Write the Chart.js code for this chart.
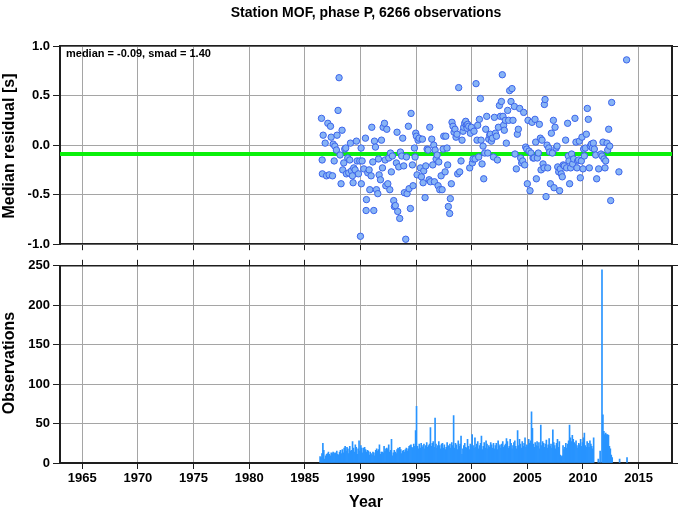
<!DOCTYPE html>
<html>

<head>
    <title>Station MOF</title>
    <script src="https://cdn.jsdelivr.net/npm/chart.js@4"></script>

    <style type="text/css">
        html,
        body {
            margin: 0;
            padding: 0;
            background-color: #ffffff;
        }

        canvas {
            position: absolute;
            left: 0;
        }
    </style>
</head>

<body>
    <canvas id="chartResidual" width="678" height="255" style="top: 0px;"></canvas>
    <canvas id="chartObs" width="678" height="256" style="top: 255px;"></canvas>

    <script>
        // median residual per month (year, seconds)
        const residYears = [
            1986.50, 1986.65, 1986.83, 1986.56, 1986.58, 1987.07, 1987.31, 1986.95, 1987.19, 1987.49,
            1987.37, 1987.64, 1987.55, 1987.70, 1987.84, 1987.99, 1988.08, 1987.90, 1988.17, 1988.26,
            1988.35, 1988.41, 1988.50, 1988.59, 1988.68, 1988.74, 1988.86, 1988.95, 1989.04, 1989.10,
            1989.19, 1989.34, 1989.28, 1989.40, 1989.52, 1989.64, 1989.70, 1989.82, 1989.94, 1990.06,
            1990.08, 1990.00, 1990.15, 1990.30, 1990.45, 1990.54, 1990.51, 1990.66, 1990.78, 1990.84,
            1990.96, 1991.02, 1991.11, 1991.20, 1991.26, 1991.35, 1991.44, 1991.56, 1991.62, 1991.68,
            1991.80, 1991.89, 1991.98, 1992.04, 1992.16, 1992.22, 1992.28, 1992.37, 1992.46, 1992.55,
            1992.64, 1992.70, 1992.78, 1992.87, 1992.99, 1993.05, 1993.14, 1993.23, 1993.29, 1993.35,
            1993.44, 1993.53, 1993.59, 1993.71, 1993.80, 1993.89, 1993.95, 1994.07, 1994.13, 1994.19,
            1994.31, 1994.37, 1994.49, 1994.55, 1994.67, 1994.73, 1994.85, 1994.91, 1994.97, 1995.03,
            1995.09, 1995.18, 1995.27, 1995.39, 1995.48, 1995.57, 1995.63, 1995.69, 1995.81, 1995.87,
            1995.99, 1996.08, 1996.17, 1996.23, 1996.29, 1996.41, 1996.50, 1996.59, 1996.65, 1996.71,
            1996.80, 1996.89, 1996.98, 1997.04, 1997.13, 1997.25, 1997.34, 1997.43, 1997.49, 1997.61,
            1997.67, 1997.78, 1997.84, 1997.90, 1998.02, 1998.08, 1998.17, 1998.23, 1998.32, 1998.41,
            1998.50, 1998.59, 1998.68, 1998.74, 1998.83, 1998.92, 1999.04, 1999.13, 1999.22, 1999.28,
            1999.37, 1999.46, 1999.52, 1999.58, 1999.64, 1999.73, 1999.82, 1999.88, 1999.97, 2000.06,
            2000.12, 2000.21, 2000.30, 2000.39, 2000.48, 2000.54, 2000.63, 2000.69, 2000.78, 2000.84,
            2000.93, 2001.02, 2001.08, 2001.17, 2001.26, 2001.35, 2001.44, 2001.53, 2001.62, 2001.68,
            2001.77, 2001.86, 2001.95, 2002.04, 2002.13, 2002.22, 2002.31, 2002.40, 2002.49, 2002.58,
            2002.67, 2002.75, 2002.81, 2002.87, 2002.93, 2003.02, 2003.11, 2003.23, 2003.32, 2003.41,
            2003.53, 2003.62, 2003.71, 2003.83, 2003.89, 2004.01, 2004.10, 2004.19, 2004.31, 2004.40,
            2004.49, 2004.58, 2004.67, 2004.76, 2004.85, 2004.94, 2005.00, 2005.06, 2005.15, 2005.24,
            2005.33, 2005.42, 2005.51, 2005.60, 2005.69, 2005.75, 2005.81, 2005.90, 2005.99, 2006.08,
            2006.17, 2006.23, 2006.32, 2006.41, 2006.50, 2006.53, 2006.59, 2006.68, 2006.77, 2006.83,
            2006.92, 2007.01, 2007.07, 2007.16, 2007.25, 2007.34, 2007.40, 2007.49, 2007.58, 2007.67,
            2007.73, 2007.82, 2007.90, 2007.96, 2008.05, 2008.14, 2008.23, 2008.32, 2008.44, 2008.53,
            2008.62, 2008.68, 2008.74, 2008.80, 2008.89, 2008.98, 2009.07, 2009.16, 2009.28, 2009.37,
            2009.46, 2009.52, 2009.61, 2009.67, 2009.76, 2009.85, 2009.91, 2010.00, 2010.06, 2010.12,
            2010.21, 2010.30, 2010.39, 2010.48, 2010.57, 2010.66, 2010.75, 2010.84, 2010.93, 2011.02,
            2011.14, 2011.23, 2011.41, 2011.62, 2011.71, 2011.80, 2011.89, 2011.98, 2012.04, 2012.16,
            2012.22, 2012.31, 2012.40, 2012.49, 2012.58, 2013.23, 2013.92
        ];
        const residValues = [
            0.27, 0.10, 0.02, -0.15, -0.29, 0.22, 0.19, -0.31, -0.30, -0.31,
            0.08, -0.16, 0.01, -0.01, -0.05, 0.35, 0.68, 0.10, -0.10, -0.39,
            0.15, -0.25, -0.18, -0.04, -0.03, -0.29, -0.13, -0.28, -0.15, 0.02,
            -0.26, -0.38, -0.31, -0.23, -0.25, 0.04, -0.16, -0.29, -0.16, -0.03,
            -0.39, -0.92, -0.16, -0.24, 0.07, -0.55, -0.66, -0.28, -0.25, -0.45,
            -0.31, 0.18, -0.17, -0.66, 0.04, -0.02, -0.45, -0.49, -0.14, -0.30,
            -0.35, 0.05, -0.23, 0.18, 0.22, -0.15, -0.41, 0.16, -0.39, -0.13,
            -0.45, -0.08, -0.27, -0.11, -0.56, -0.62, -0.61, -0.18, 0.13, -0.67,
            -0.22, -0.74, -0.07, -0.11, 0.07, -0.21, -0.48, -0.95, -0.12, -0.49,
            0.19, -0.44, -0.64, 0.32, -0.20, -0.41, -0.03, -0.12, 0.12, 0.09,
            -0.30, 0.05, 0.07, -0.23, -0.32, 0.06, -0.38, -0.26, -0.53, -0.21,
            -0.04, -0.05, -0.35, 0.18, -0.37, 0.06, -0.20, 0.00, -0.37, -0.05,
            -0.14, -0.10, -0.41, -0.17, -0.45, -0.31, -0.45, -0.04, 0.09, -0.27,
            0.09, -0.03, -0.20, -0.62, -0.69, -0.54, -0.39, 0.23, 0.19, 0.13,
            0.16, 0.08, 0.11, -0.29, 0.58, -0.27, -0.16, 0.05, 0.14, 0.18,
            0.22, 0.24, 0.20, 0.17, 0.21, 0.19, -0.23, 0.12, 0.18, -0.18,
            -0.14, 0.14, -0.14, 0.62, 0.05, 0.20, -0.12, 0.26, 0.47, 0.05,
            -0.19, -0.01, -0.34, -0.08, 0.16, 0.29, -0.08, 0.06, 0.10, 0.11,
            0.04, 0.07, -0.12, 0.28, 0.12, 0.09, -0.15, 0.18, 0.40, 0.29,
            0.44, 0.71, 0.29, 0.20, 0.15, 0.25, 0.02, 0.35, 0.25, 0.55,
            0.44, 0.57, 0.25, 0.39, -0.09, -0.24, 0.11, 0.16, 0.37, -0.13,
            -0.18, -0.16, 0.33, -0.20, -0.02, -0.04, -0.39, 0.25, -0.06, -0.46,
            -0.08, 0.23, -0.13, -0.13, 0.26, 0.03, -0.34, -0.13, -0.08, 0.21,
            0.07, -0.25, 0.05, -0.19, -0.23, 0.41, 0.46, -0.52, 0.00, -0.23,
            -0.03, -0.07, -0.39, 0.12, -0.08, 0.25, -0.43, 0.18, -0.03, -0.01,
            -0.22, -0.27, -0.46, -0.24, -0.29, -0.32, -0.20, -0.21, 0.05, -0.23,
            0.22, -0.11, -0.16, -0.39, -0.23, -0.09, -0.19, -0.14, 0.27, 0.03,
            -0.23, -0.16, -0.15, 0.04, -0.33, -0.16, 0.08, -0.24, -0.04, -0.11,
            -0.03, 0.11, 0.37, 0.26, -0.23, -0.01, 0.01, -0.03, 0.02, -0.04,
            -0.10, -0.34, -0.24, -0.09, -0.11, 0.03, -0.14, -0.23, -0.16, 0.02,
            -0.05, 0.16, -0.01, -0.56, 0.43, -0.27, 0.86
        ];
        const medianResidual = -0.09;
        const smadResidual = 1.40;

        // observations per month, Jan..Dec
        const obs1986 = [0, 0, 0, 0, 8, 7, 12, 25, 16, 5, 9, 11];
        const obs1987 = [12, 14, 11, 9, 13, 12, 14, 13, 12, 13, 15, 11];
        const obs1988 = [10, 14, 16, 12, 17, 13, 19, 21, 15, 20, 18, 12];
        const obs1989 = [21, 15, 16, 27, 19, 14, 23, 20, 11, 18, 28, 15];
        const obs1990 = [22, 19, 13, 19, 20, 17, 14, 16, 15, 10, 14, 12];
        const obs1991 = [10, 14, 13, 9, 16, 18, 15, 17, 23, 11, 14, 14];
        const obs1992 = [13, 21, 15, 18, 19, 17, 23, 14, 16, 30, 9, 13];
        const obs1993 = [16, 14, 12, 17, 19, 18, 20, 17, 12, 15, 16, 14];
        const obs1994 = [17, 19, 15, 18, 21, 22, 23, 20, 19, 24, 21, 41];
        const obs1995 = [72, 21, 18, 24, 19, 25, 20, 22, 24, 18, 22, 26];
        const obs1996 = [20, 22, 24, 45, 21, 25, 27, 20, 57, 24, 19, 22];
        const obs1997 = [27, 22, 18, 24, 25, 19, 23, 17, 20, 26, 22, 21];
        const obs1998 = [24, 19, 26, 22, 60, 19, 25, 23, 17, 28, 21, 24];
        const obs1999 = [34, 11, 18, 22, 25, 20, 19, 30, 21, 17, 24, 22];
        const obs2000 = [36, 22, 19, 32, 20, 24, 27, 18, 22, 25, 34, 17];
        const obs2001 = [21, 26, 19, 28, 24, 18, 22, 20, 26, 23, 19, 25];
        const obs2002 = [18, 22, 25, 17, 28, 21, 23, 19, 24, 27, 20, 22];
        const obs2003 = [24, 31, 27, 19, 21, 30, 25, 18, 22, 26, 28, 21];
        const obs2004 = [18, 41, 22, 30, 24, 19, 27, 21, 25, 32, 20, 23];
        const obs2005 = [22, 30, 25, 28, 65, 44, 24, 20, 26, 22, 27, 21];
        const obs2006 = [26, 18, 48, 22, 27, 25, 20, 24, 29, 19, 23, 31];
        const obs2007 = [21, 24, 19, 42, 26, 22, 18, 25, 30, 20, 27, 10];
        const obs2008 = [8, 9, 22, 17, 20, 25, 19, 24, 28, 48, 32, 27];
        const obs2009 = [35, 30, 26, 24, 28, 22, 19, 25, 23, 30, 21, 26];
        const obs2010 = [32, 38, 22, 20, 27, 25, 20, 28, 24, 21, 18, 32];
        const obs2011 = [0, 0, 0, 0, 5, 0, 15, 0, 245, 61, 40, 36];
        const obs2012 = [38, 36, 36, 35, 21, 18, 10, 7, 0, 0, 0, 0];
        const obs2013 = [0, 0, 0, 5, 0, 0, 0, 0, 0, 0, 0, 7];

        const obsByYear = [
            [1986, obs1986], [1987, obs1987], [1988, obs1988], [1989, obs1989], [1990, obs1990],
            [1991, obs1991], [1992, obs1992], [1993, obs1993], [1994, obs1994], [1995, obs1995],
            [1996, obs1996], [1997, obs1997], [1998, obs1998], [1999, obs1999], [2000, obs2000],
            [2001, obs2001], [2002, obs2002], [2003, obs2003], [2004, obs2004], [2005, obs2005],
            [2006, obs2006], [2007, obs2007], [2008, obs2008], [2009, obs2009], [2010, obs2010],
            [2011, obs2011], [2012, obs2012], [2013, obs2013]
        ];

        const yearTicks = [1965, 1970, 1975, 1980, 1985, 1990, 1995, 2000, 2005, 2010, 2015];
        const residTicks = [-1.0, -0.5, 0.0, 0.5, 1.0];
        const obsTicks = [0, 50, 100, 150, 200, 250];

        const fontFamily = '"Liberation Sans", Arial, Helvetica, sans-serif';
        const tickFont = { family: fontFamily, size: 13, weight: 'bold' };
        const gridColor = 'rgb(165, 165, 165)';
        const axisColor = 'rgb(30, 30, 30)';

        function FixTicks(values) {
            return function(scale) {
                scale.ticks = values.map(v => ({ value: v }));
            };
        }

        function TextPlugin(items) {
            return {
                id: 'textLabels',
                afterDraw(chart) {
                    let ctx = chart.ctx;
                    items.forEach(t => {
                        ctx.save();
                        ctx.fillStyle = '#000';
                        ctx.font = t.font;
                        ctx.textAlign = t.align || 'center';
                        ctx.textBaseline = 'middle';
                        ctx.translate(t.x, t.y);
                        if (t.rotate) {
                            ctx.rotate(-Math.PI / 2);
                        }
                        ctx.fillText(t.text, 0, 0);
                        ctx.restore();
                    });
                }
            };
        }

        let residPoints = residYears.map((x, i) => ({ x: x, y: residValues[i] }));

        let obsPoints = [];
        obsByYear.forEach(([year, counts]) => {
            counts.forEach((c, m) => {
                if (c > 0) {
                    obsPoints.push({ x: year + (m + 0.5) / 12, y: c });
                }
            });
        });

        new Chart(document.getElementById('chartResidual'), {
            type: 'scatter',
            data: {
                datasets: [{
                    data: residPoints,
                    backgroundColor: 'rgb(135, 180, 245)',
                    borderColor: 'rgb(60, 100, 235)',
                    borderWidth: 1,
                    pointRadius: 3.2,
                    order: 0
                }, {
                    type: 'line',
                    data: [{ x: 1963, y: medianResidual }, { x: 2018, y: medianResidual }],
                    borderColor: 'rgb(10, 240, 10)',
                    borderWidth: 4,
                    pointRadius: 0,
                    order: 1
                }]
            },
            options: {
                responsive: false,
                animation: false,
                layout: { padding: { top: 46, left: 0, right: 0, bottom: 0 } },
                plugins: {
                    legend: { display: false },
                    tooltip: { enabled: false }
                },
                scales: {
                    x: {
                        type: 'linear',
                        position: 'bottom',
                        min: 1963,
                        max: 2018,
                        afterBuildTicks: FixTicks(yearTicks),
                        afterFit: s => { s.height = 8; },
                        ticks: { display: false },
                        grid: { color: gridColor, tickColor: axisColor, tickLength: 6 },
                        border: { color: axisColor, width: 1.5 }
                    },
                    xTop: {
                        type: 'linear',
                        position: 'top',
                        min: 1963,
                        max: 2018,
                        afterFit: s => { s.height = 0; },
                        ticks: { display: false },
                        grid: { display: false },
                        border: { color: axisColor, width: 1.5 }
                    },
                    y: {
                        position: 'left',
                        min: -1,
                        max: 1,
                        afterBuildTicks: FixTicks(residTicks),
                        afterFit: s => { s.width = 60; },
                        ticks: { color: '#000', font: tickFont, padding: 3, callback: v => v.toFixed(1) },
                        grid: { color: gridColor, tickColor: axisColor, tickLength: 7 },
                        border: { color: axisColor, width: 2 }
                    },
                    yRight: {
                        position: 'right',
                        min: -1,
                        max: 1,
                        afterBuildTicks: FixTicks(residTicks),
                        afterFit: s => { s.width = 6; },
                        ticks: { display: false },
                        grid: { drawOnChartArea: false, tickColor: axisColor, tickLength: 6 },
                        border: { color: axisColor, width: 2 }
                    }
                }
            },
            plugins: [TextPlugin([
                { text: 'Station MOF, phase P, 6266 observations', x: 366, y: 13, font: 'bold 14px ' + fontFamily },
                { text: 'Median residual [s]', x: 10, y: 146, rotate: true, font: 'bold 16px ' + fontFamily },
                { text: 'median = ' + medianResidual.toFixed(2) + ', smad = ' + smadResidual.toFixed(2), x: 66, y: 54, align: 'left', font: 'bold 11px ' + fontFamily }
            ])]
        });

        new Chart(document.getElementById('chartObs'), {
            type: 'bar',
            data: {
                datasets: [{
                    data: obsPoints,
                    backgroundColor: 'rgb(40, 148, 255)',
                    borderWidth: 0,
                    barThickness: 1
                }]
            },
            options: {
                responsive: false,
                animation: false,
                layout: { padding: 0 },
                plugins: {
                    legend: { display: false },
                    tooltip: { enabled: false }
                },
                scales: {
                    x: {
                        type: 'linear',
                        position: 'bottom',
                        min: 1963,
                        max: 2018,
                        offset: false,
                        afterBuildTicks: FixTicks(yearTicks),
                        afterFit: s => { s.height = 48; },
                        ticks: { color: '#000', font: tickFont, padding: 2, maxRotation: 0, autoSkip: false, callback: v => String(v) },
                        grid: { color: gridColor, tickColor: axisColor, tickLength: 6, offset: false },
                        border: { color: axisColor, width: 2 }
                    },
                    xTop: {
                        type: 'linear',
                        position: 'top',
                        min: 1963,
                        max: 2018,
                        offset: false,
                        afterBuildTicks: FixTicks(yearTicks),
                        afterFit: s => { s.height = 7; },
                        ticks: { display: false },
                        grid: { drawOnChartArea: false, tickColor: axisColor, tickLength: 6, offset: false },
                        border: { color: axisColor, width: 1.5 }
                    },
                    y: {
                        position: 'left',
                        min: 0,
                        max: 250,
                        afterBuildTicks: FixTicks(obsTicks),
                        afterFit: s => { s.width = 60; },
                        ticks: { color: '#000', font: tickFont, padding: 3, callback: v => String(v) },
                        grid: { color: gridColor, tickColor: axisColor, tickLength: 7 },
                        border: { color: axisColor, width: 2 }
                    },
                    yRight: {
                        position: 'right',
                        min: 0,
                        max: 250,
                        afterBuildTicks: FixTicks(obsTicks),
                        afterFit: s => { s.width = 6; },
                        ticks: { display: false },
                        grid: { drawOnChartArea: false, tickColor: axisColor, tickLength: 6 },
                        border: { color: axisColor, width: 2 }
                    }
                }
            },
            plugins: [TextPlugin([
                { text: 'Observations', x: 10, y: 108, rotate: true, font: 'bold 16px ' + fontFamily },
                { text: 'Year', x: 366, y: 248, font: 'bold 16px ' + fontFamily }
            ])]
        });
    </script>
</body>

</html>
